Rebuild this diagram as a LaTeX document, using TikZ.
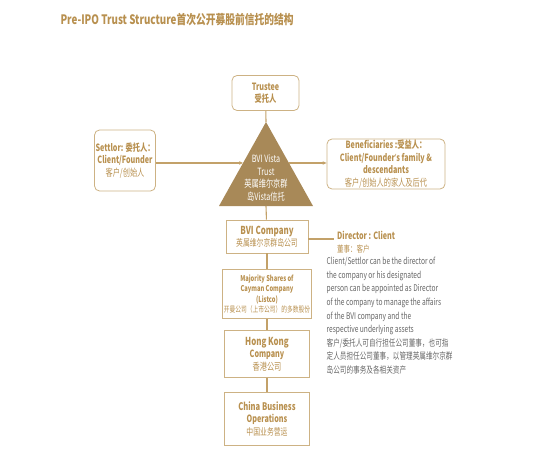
\documentclass[tikz,border=0pt]{standalone}
\usepackage{fontspec}
\setmainfont{Noto Sans CJK SC}[FakeStretch=0.72]
\newfontfamily\titlefont{Noto Sans CJK SC}[FakeStretch=0.75]
\newfontfamily\latinfont{Noto Sans}[FakeStretch=0.72]
\usetikzlibrary{arrows.meta, positioning, calc}
\definecolor{cgold}{HTML}{B8904F}
\definecolor{cline}{HTML}{CDB284}
\definecolor{ctri}{HTML}{A88958}
\definecolor{ctext}{HTML}{666666}

\begin{document}
\begin{tikzpicture}[
  x=1pt, y=-1pt,
  font=\fontsize{10}{12.5}\selectfont,
  >={Stealth[length=4pt, width=3.5pt]},
  box/.style={draw=cline, line width=0.8pt, rounded corners=5pt, align=center,
              text=cgold, inner sep=1pt},
  sbox/.style={box, rounded corners=0pt},
  link/.style={draw=cgold!85, line width=1.1pt},
  arr/.style={link, ->},
  ]
\useasboundingbox (0,0) rectangle (543,468);
\node[anchor=west, text=cgold, font=\titlefont\fontsize{13}{15}\selectfont\bfseries] (title) at (57,20)
  {Pre-IPO Trust Structure首次公开募股前信托的结构};

% trust in the middle
\node[box, minimum width=67pt, minimum height=35pt] (trustee) at (265.5,93)
  {\textbf{Trustee}\\\textbf{受托人}};
\coordinate (apex) at (266,122);
\coordinate (bl) at (219,206);
\coordinate (br) at (313,206);
\coordinate (tb) at (266,206);
\coordinate (tl) at ($(apex)!0.488!(bl)$);
\coordinate (tr) at ($(apex)!0.488!(br)$);
\fill[ctri] (apex) -- (bl) -- (br) -- cycle;
\node[text=white, align=center] (trust) at (266,178)
  {BVI Vista\\Trust\\英属维尔京群\\岛Vista信托};

\node[box, minimum width=60pt, minimum height=61pt] (settlor) at (125,160.5)
  {\textbf{Settlor: 委托人：}\\\textbf{Client/Founder}\\客户/创始人};
\node[box, minimum width=118pt, minimum height=50pt] (bene) at (386,164)
  {\textbf{Beneficiaries :受益人：}\\\textbf{Client/Founder{\latinfont\char"2019}s family \&}\\\textbf{descendants}\\客户/创始人的家人及后代};

% company chain
\node[sbox, minimum width=82pt, minimum height=33pt] (bvi) at (267,236.5)
  {\fontsize{11}{13}\selectfont\textbf{BVI Company}\\\fontsize{9.5}{12}\selectfont 英属维尔京群岛公司};
\node[sbox, minimum width=87pt, minimum height=49pt, below=16pt of bvi,
      font=\fontsize{8}{10.5}\selectfont] (maj)
  {\textbf{Majority Shares of}\\\textbf{Cayman Company}\\\textbf{(Listco)}\\开曼公司（上市公司）的多数股份};
\node[sbox, minimum width=85pt, minimum height=47pt, below=11pt of maj] (hk)
  {\fontsize{11}{13}\selectfont\textbf{Hong Kong}\\\textbf{Company}\\\fontsize{10}{12}\selectfont 香港公司};
\node[sbox, minimum width=85pt, minimum height=53pt, below=14pt of hk] (china)
  {\fontsize{10.5}{13}\selectfont\textbf{China Business}\\\textbf{Operations}\\\fontsize{9.5}{12}\selectfont 中国业务营运};

\draw[link] (trustee) -- (apex);
\draw[arr] (settlor.east |- tl) -- (tl);
\draw[arr] (tr) -- (bene.west |- tr);
\draw[link] (tb) -- (bvi);
\draw[link] (bvi) -- (maj);
\draw[link] (maj) -- (hk);
\draw[link] (hk) -- (china);

% director note
\coordinate (dir) at (334,239);
\draw[link, line width=1.5pt] (bvi.east |- dir) -- (dir);
\node[anchor=north west, text=cgold, align=left, inner sep=0pt] (dirlab) at (337,231)
  {\textbf{Director : Client}\\\fontsize{9}{12}\selectfont 董事：客户};
\node[anchor=north west, text=ctext, align=left, inner sep=0pt,
      font=\fontsize{9.2}{13.6}\selectfont] (note) at (326.5,257)
  {Client/Settlor can be the director of\\the company or his designated\\person can be appointed as Director\\of the company to manage the affairs\\of the BVI company and the\\respective underlying assets\\客户/委托人可自行担任公司董事，也可指\\定人员担任公司董事，以管理英属维尔京群\\岛公司的事务及各相关资产};
\end{tikzpicture}
\end{document}
